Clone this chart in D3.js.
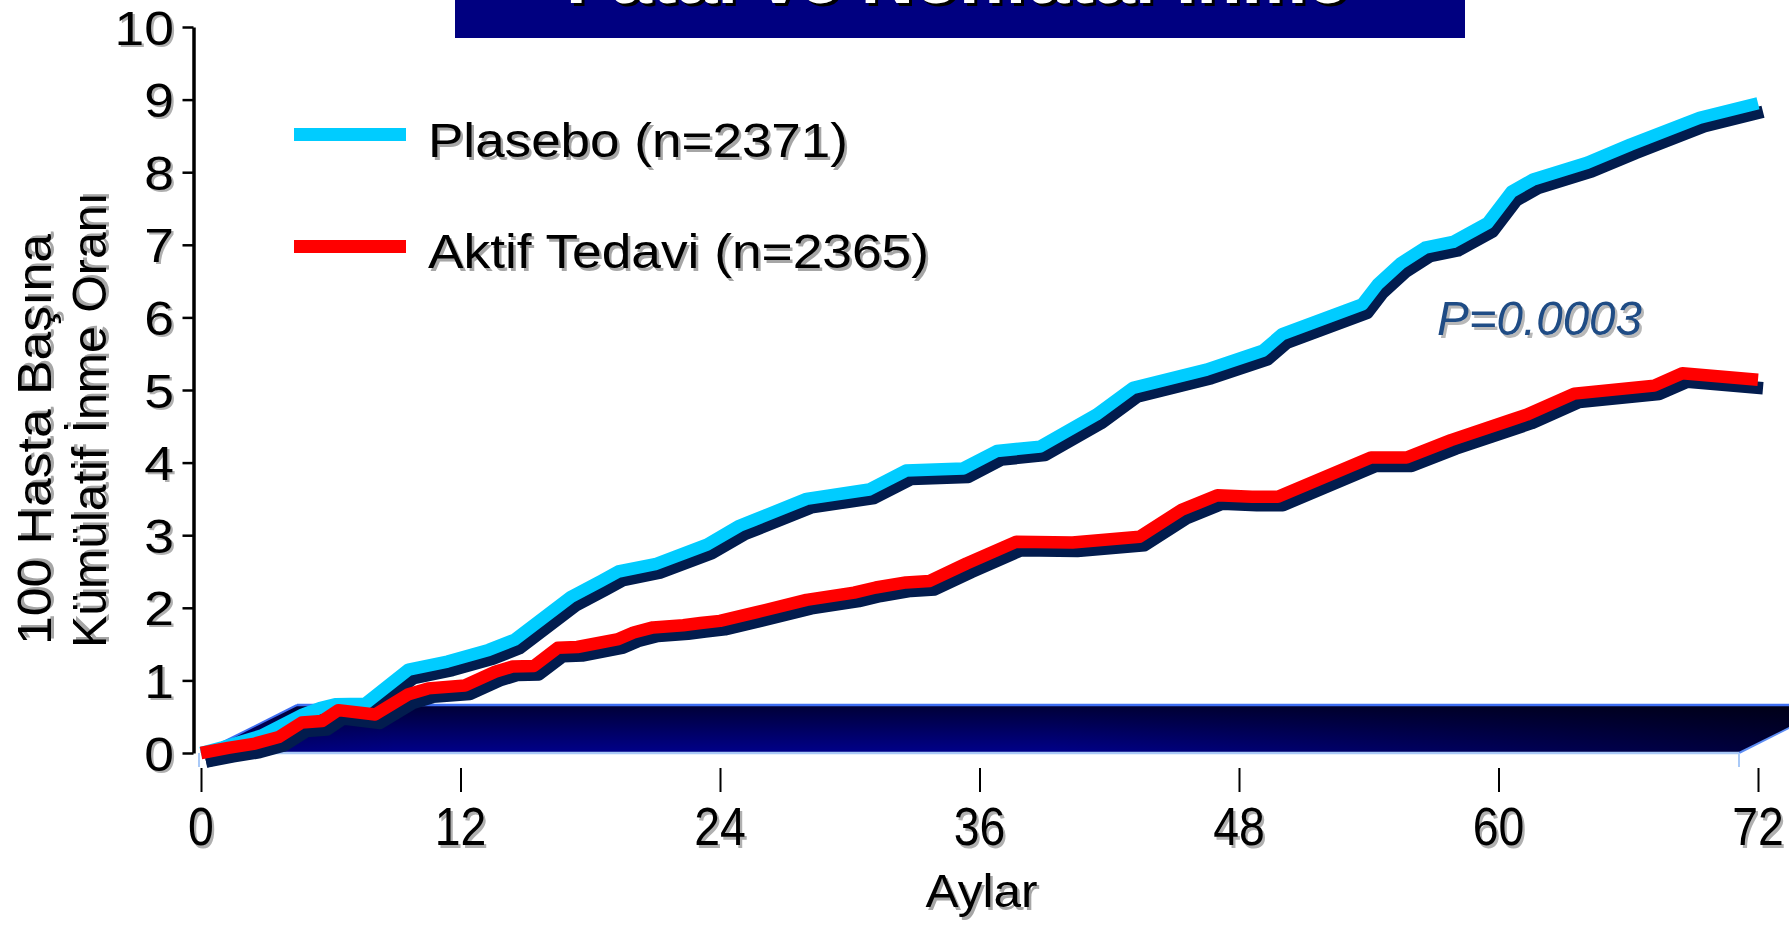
<!DOCTYPE html>
<html>
<head>
<meta charset="utf-8">
<script src="https://cdn.jsdelivr.net/npm/d3@7"></script>
<style>
  html, body { margin: 0; padding: 0; background: #fff; overflow: hidden; }
  text { font-family: "Liberation Sans", Arial, Helvetica, sans-serif; }
</style>
</head>
<body>
<svg id="chart" width="1789" height="925"></svg>
<script>
// Cumulative stroke rate per 100 patients, by month of follow-up
const placeboMonths = [0, 1, 2.8, 4.7, 5.5, 6.2, 7.6, 9.6, 11.4, 13.3, 14.5, 17.1, 18.5, 19.3, 21.0, 23.4, 24.9, 25.5, 28.0, 30.9, 32.6, 35.25, 36.8, 38.8, 41.4, 43.1, 46.5, 49.1, 50.0, 53.7, 54.4, 55.5, 56.6, 57.9, 59.5, 60.6, 61.6, 64.1, 66.1, 69.3, 72];
const placeboRates  = [0, 0.08, 0.24, 0.53, 0.62, 0.67, 0.68, 1.15, 1.26, 1.42, 1.56, 2.15, 2.37, 2.50, 2.60, 2.87, 3.13, 3.20, 3.50, 3.63, 3.89, 3.92, 4.16, 4.22, 4.66, 5.03, 5.28, 5.54, 5.77, 6.18, 6.45, 6.75, 6.96, 7.04, 7.30, 7.73, 7.90, 8.13, 8.38, 8.75, 8.95];

const activeMonths = [0, 1.26, 2.5, 3.6, 4.66, 5.6, 6.35, 8.05, 9.6, 10.5, 12.2, 13.6, 14.4, 15.4, 16.5, 17.4, 19.3, 20.0, 20.9, 22.3, 23.1, 24.0, 25.7, 28.0, 30.2, 31.2, 32.6, 33.7, 35.4, 37.7, 40.3, 43.4, 45.35, 47.0, 48.6, 49.8, 54.1, 55.75, 57.8, 60.5, 61.3, 63.5, 67.2, 68.5, 72];
const activeRates  = [0, 0.07, 0.13, 0.22, 0.42, 0.44, 0.59, 0.53, 0.81, 0.89, 0.93, 1.12, 1.19, 1.20, 1.45, 1.46, 1.57, 1.66, 1.73, 1.76, 1.79, 1.82, 1.94, 2.11, 2.21, 2.28, 2.35, 2.37, 2.61, 2.91, 2.90, 2.98, 3.35, 3.55, 3.53, 3.53, 4.07, 4.07, 4.31, 4.58, 4.66, 4.95, 5.06, 5.23, 5.14];

const xTicks = [0, 12, 24, 36, 48, 60, 72];
const yTicks = [0, 1, 2, 3, 4, 5, 6, 7, 8, 9, 10];

const seriesNames  = ["Plasebo (n=2371)", "Aktif Tedavi (n=2365)"];
const seriesColors = ["#00ccff", "#ff0000"];

const titleText  = "Fatal ve Nonfatal İnme";
const xTitle     = "Aylar";
const yTitle     = ["100 Hasta Başına", "Kümülatif İnme Oranı"];
const pValueText = "P=0.0003";

// ---------------------------------------------------------------
const svg = d3.select("#chart");
const x = d3.scaleLinear().domain([0, 72]).range([201, 1758]);
const y = d3.scaleLinear().domain([0, 10]).range([753, 27]);

const defs = svg.append("defs");
const gv = defs.append("linearGradient").attr("id", "floorV")
  .attr("x1", 0).attr("y1", 0).attr("x2", 0).attr("y2", 1);
gv.append("stop").attr("offset", "0%").attr("stop-color", "#000036");
gv.append("stop").attr("offset", "100%").attr("stop-color", "#00008a");
const gh = defs.append("linearGradient").attr("id", "floorH")
  .attr("x1", 0).attr("y1", 0).attr("x2", 1).attr("y2", 0);
gh.append("stop").attr("offset", "0%").attr("stop-color", "#000").attr("stop-opacity", 0.15);
gh.append("stop").attr("offset", "12%").attr("stop-color", "#000").attr("stop-opacity", 0);
gh.append("stop").attr("offset", "52%").attr("stop-color", "#000").attr("stop-opacity", 0);
gh.append("stop").attr("offset", "100%").attr("stop-color", "#000").attr("stop-opacity", 0.62);

// text with a soft offset shadow underneath
function shadowText(g, str, opts) {
  const sh = opts.shadow || { dx: 2.5, dy: 2.5, color: "#a6a6a6" };
  const make = (dx, dy, fill) => {
    const t = g.append("text")
      .attr("x", opts.x + dx).attr("y", opts.y + dy)
      .attr("font-size", opts.size)
      .attr("font-weight", opts.weight || "normal")
      .attr("font-style", opts.style || "normal")
      .attr("text-anchor", opts.anchor || "start")
      .attr("fill", fill)
      .text(str);
    if (opts.length) t.attr("textLength", opts.length).attr("lengthAdjust", "spacingAndGlyphs");
    if (opts.transform) t.attr("transform", opts.transform);
    return t;
  };
  make(sh.dx, sh.dy, sh.color);
  return make(0, 0, opts.fill || "#000");
}

// title banner (heading sits mostly above the top edge)
svg.append("rect").attr("x", 455).attr("y", 0).attr("width", 1010).attr("height", 38).attr("fill", "#000080");
shadowText(svg, titleText, { x: 566, y: 3, size: 68, weight: "bold", fill: "#fff", length: 782,
  shadow: { dx: 3, dy: 3, color: "#000" } });

// 3D floor band
const fx0 = x(0), fy0 = y(0), depthX = 96, depthY = 48, fx1 = 1739;
const floorPts = [[fx0, fy0], [fx0 + depthX, fy0 - depthY], [fx1 + depthX, fy0 - depthY], [fx1, fy0]];
const floor = svg.append("g");
floor.append("polygon").attr("points", floorPts.map(p => p.join(",")).join(" ")).attr("fill", "url(#floorV)");
floor.append("polygon").attr("points", floorPts.map(p => p.join(",")).join(" ")).attr("fill", "url(#floorH)");
floor.append("line").attr("x1", fx0 + depthX).attr("y1", fy0 - depthY).attr("x2", fx1 + depthX).attr("y2", fy0 - depthY)
  .attr("stroke", "#3f6ff2").attr("stroke-width", 2.5);
floor.append("line").attr("x1", fx0).attr("y1", fy0).attr("x2", fx0 + depthX).attr("y2", fy0 - depthY)
  .attr("stroke", "#3f6ff2").attr("stroke-width", 2);
floor.append("line").attr("x1", fx1).attr("y1", fy0).attr("x2", fx1 + depthX).attr("y2", fy0 - depthY)
  .attr("stroke", "#5d8cf2").attr("stroke-width", 2);
floor.append("line").attr("x1", fx0).attr("y1", fy0).attr("x2", fx1).attr("y2", fy0)
  .attr("stroke", "#a9c9f7").attr("stroke-width", 2.5);
[fx0 - 2, fx1].forEach(px => floor.append("line").attr("x1", px).attr("y1", fy0).attr("x2", px).attr("y2", fy0 + 14)
  .attr("stroke", "#a9c9f7").attr("stroke-width", 2));

// y axis
const yAxis = svg.append("g").attr("transform", "translate(193.5,0)")
  .call(d3.axisLeft(y).tickValues(yTicks).tickSize(11).tickSizeOuter(0).tickFormat(""));
yAxis.select(".domain").attr("stroke", "#000").attr("stroke-width", 3.5);
yAxis.selectAll(".tick line").attr("stroke", "#000").attr("stroke-width", 2.5);
yTicks.forEach(v => {
  shadowText(svg, String(v), { x: 0, y: 0, size: 49, anchor: "end",
    transform: `translate(174,${y(v) + 17.5}) scale(1.09,1)`, shadow: { dx: 2, dy: 2, color: "#b0b0b0" } });
});

// x axis
const xAxis = svg.append("g").attr("transform", "translate(0,768)")
  .call(d3.axisBottom(x).tickValues(xTicks).tickSize(24).tickSizeOuter(0).tickFormat(""));
xAxis.select(".domain").remove();
xAxis.selectAll(".tick line").attr("stroke", "#000").attr("stroke-width", 2);
xTicks.forEach(v => {
  shadowText(svg, String(v), { x: 0, y: 0, size: 53, anchor: "middle",
    transform: `translate(${x(v)},845) scale(0.875,1)`, shadow: { dx: 2.5, dy: 2.5, color: "#b0b0b0" } });
});

// axis titles
shadowText(svg, xTitle, { x: x(36) + 2, y: 907, size: 47, anchor: "middle", length: 112 });
const yt = svg.append("g").attr("transform", "rotate(-90)");
shadowText(yt, yTitle[0], { x: -645, y: 51, size: 48, anchor: "start", length: 411 });
shadowText(yt, yTitle[1], { x: -648, y: 106, size: 48, anchor: "start", length: 456 });

// curves: dark offset shadow first, then the coloured lines
const line = d3.line().x(d => x(d[0])).y(d => y(d[1])).curve(d3.curveLinear);
const series = [
  d3.zip(placeboMonths, placeboRates),
  d3.zip(activeMonths, activeRates)
];
const curves = svg.append("g");
series.forEach(s => curves.append("path").attr("d", line(s))
  .attr("transform", "translate(5,8.5)")
  .attr("fill", "none").attr("stroke", "#021c4e").attr("stroke-width", 12.5)
  .attr("stroke-linejoin", "round"));
series.forEach((s, i) => curves.append("path").attr("d", line(s))
  .attr("fill", "none").attr("stroke", seriesColors[i]).attr("stroke-width", 12.5)
  .attr("stroke-linejoin", "round"));

// legend
const legendY = [134.5, 246.5];
const legendBase = [157, 268];
const legendLen = [420, 501];
seriesNames.forEach((name, i) => {
  svg.append("line").attr("x1", 294).attr("x2", 406).attr("y1", legendY[i]).attr("y2", legendY[i])
    .attr("stroke", seriesColors[i]).attr("stroke-width", 13);
  shadowText(svg, name, { x: 428, y: legendBase[i], size: 49, length: legendLen[i] });
});

// significance note
shadowText(svg, pValueText, { x: 1437, y: 335, size: 49, style: "italic", fill: "#1f4c85", length: 205,
  shadow: { dx: 2.5, dy: 2.5, color: "#b8b8b8" } });
</script>
</body>
</html>
